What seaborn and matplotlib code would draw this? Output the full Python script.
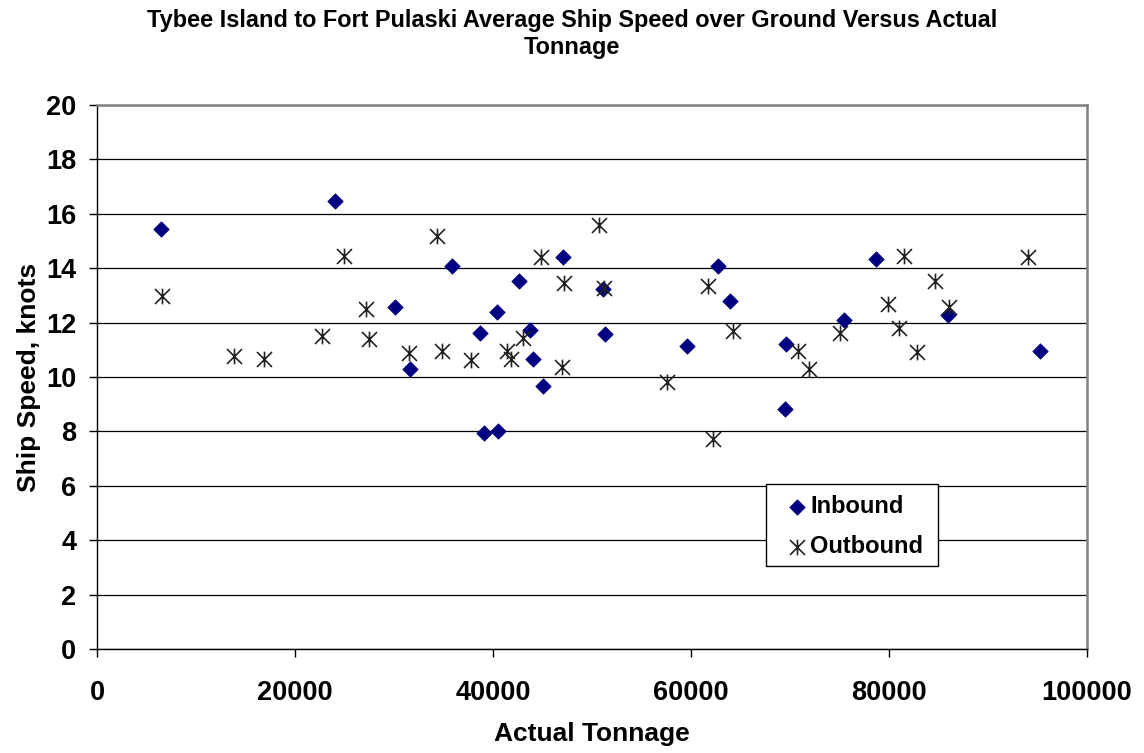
import matplotlib
matplotlib.use("Agg")
import matplotlib.pyplot as plt
from matplotlib.path import Path
from matplotlib.patches import Rectangle
import pandas as pd
import seaborn as sns

# Vessel transits: tonnage vs. average speed over ground
inbound_tonnage = [6500, 24000, 30100, 31600, 35900, 38700, 39100, 40400, 40500,
                   42600, 43700, 44000, 45000, 47100, 51100, 51300, 59600, 62700,
                   63900, 69500, 69600, 75500, 78700, 86000, 95300]
inbound_speed = [15.45, 16.46, 12.56, 10.31, 14.08, 11.63, 7.95, 12.39, 8.01,
                 13.52, 11.74, 10.66, 9.66, 14.40, 13.22, 11.58, 11.15, 14.09,
                 12.81, 8.83, 11.21, 12.11, 14.34, 12.29, 10.97]

outbound_tonnage = [6600, 13800, 16900, 22700, 24900, 27200, 27500, 31500, 34300,
                    34800, 37800, 41400, 41800, 43000, 44800, 47000, 47200, 50700,
                    51200, 57600, 61700, 62200, 64200, 70800, 71900, 75000, 79900,
                    81000, 81500, 82800, 84600, 86100, 94000]
outbound_speed = [12.98, 10.78, 10.66, 11.51, 14.45, 12.50, 11.39, 10.87, 15.17,
                  10.97, 10.61, 10.97, 10.65, 11.45, 14.40, 10.36, 13.44, 15.59,
                  13.26, 9.83, 13.35, 7.71, 11.69, 10.97, 10.29, 11.61, 12.68,
                  11.79, 14.45, 10.91, 13.52, 12.56, 14.40]

x_ticks = [0, 20000, 40000, 60000, 80000, 100000]
y_ticks = list(range(0, 21, 2))

sns.set_style("white")
plt.rcParams["font.family"] = ["Liberation Sans", "DejaVu Sans"]
plt.rcParams["font.weight"] = "bold"
for key in ("text.color", "axes.labelcolor", "xtick.color", "ytick.color"):
    plt.rcParams[key] = "black"

# Excel-style "star" marker: an X crossed by a vertical stroke
star = Path([(-1, -1), (1, 1), (-1, 1), (1, -1), (0, -1.05), (0, 1.05)],
            [Path.MOVETO, Path.LINETO, Path.MOVETO, Path.LINETO, Path.MOVETO, Path.LINETO])

inb = pd.DataFrame({"tonnage": inbound_tonnage, "speed": inbound_speed})
outb = pd.DataFrame({"tonnage": outbound_tonnage, "speed": outbound_speed})

fig = plt.figure(figsize=(11.44, 7.53), dpi=100)
ax = fig.add_axes([97 / 1144, 1 - 649 / 753, 990 / 1144, 544 / 753])

sns.scatterplot(data=inb, x="tonnage", y="speed", ax=ax, marker="D", s=62,
                color="#000080", edgecolor="#000080", linewidth=0.5,
                label="Inbound", zorder=3)
sns.scatterplot(data=outb, x="tonnage", y="speed", ax=ax, marker=star, s=128,
                color="#222222", edgecolor="#222222", linewidth=1.2,
                label="Outbound", zorder=4)

ax.set_xlim(0, 100000)
ax.set_ylim(0, 20)
ax.set_xticks(x_ticks)
ax.set_yticks(y_ticks)
ax.set_xticklabels([str(v) for v in x_ticks])
ax.set_yticklabels([str(v) for v in y_ticks])
ax.set_axisbelow(True)
ax.yaxis.grid(True, color="black", linewidth=0.9)
ax.xaxis.grid(False)

for side in ("top", "right"):
    ax.spines[side].set_color("#808080")
    ax.spines[side].set_linewidth(1.8)
for side in ("left", "bottom"):
    ax.spines[side].set_color("black")
    ax.spines[side].set_linewidth(1.0)

ax.tick_params(axis="both", which="major", direction="out", length=6, width=1,
               color="black", labelcolor="black", labelsize=19.5,
               bottom=True, left=True)
ax.tick_params(axis="x", pad=16.5)
ax.tick_params(axis="y", pad=9)
for lbl in ax.get_xticklabels() + ax.get_yticklabels():
    lbl.set_fontweight("bold")

ax.set_xlabel("Actual Tonnage", fontsize=19, fontweight="bold", labelpad=11,
              color="black")
ax.set_ylabel("Ship Speed, knots", fontsize=19, fontweight="bold", labelpad=3.5,
              color="black")

fig.text(0.5, 1 - 34 / 753,
         "Tybee Island to Fort Pulaski Average Ship Speed over Ground Versus Actual\nTonnage",
         ha="center", va="center", fontsize=16.9, fontweight="bold",
         linespacing=1.27, color="black")

# Legend box drawn as its own frame, entries placed inside it
ax.add_patch(Rectangle((0.6758, 0.1526), 0.1737, 0.1507, transform=ax.transAxes,
                       facecolor="white", edgecolor="black", linewidth=1.0,
                       zorder=5, clip_on=False))
leg = ax.legend(loc="upper left", bbox_to_anchor=(0.695, 0.283), fontsize=17,
                frameon=False, borderpad=0, labelspacing=0.72,
                handlelength=1.0, handletextpad=0.06, borderaxespad=0)
leg.set_zorder(6)
for t in leg.get_texts():
    t.set_fontweight("bold")
    t.set_color("black")

fig.savefig("out.png", dpi=100, facecolor="white")
